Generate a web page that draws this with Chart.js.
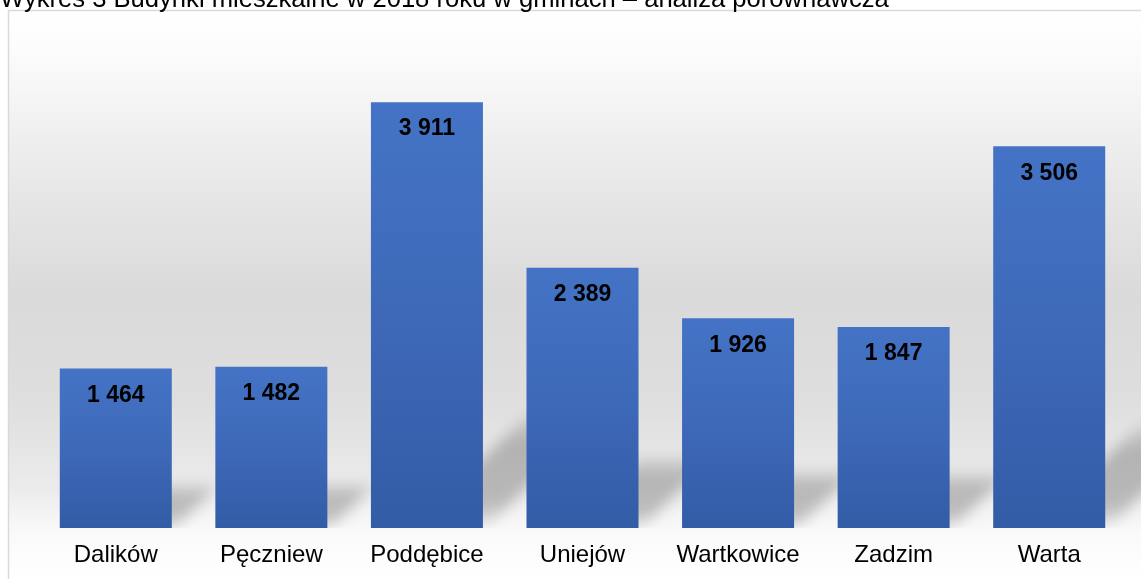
<!DOCTYPE html>
<html>
<head>
<meta charset="utf-8">
<script src="https://cdn.jsdelivr.net/npm/chart.js@4.4.1/dist/chart.umd.min.js"></script>
<style>
  html, body { margin: 0; padding: 0; background: #ffffff; overflow: hidden; }
  #wrap { position: relative; width: 1141px; height: 579px; }
  #title { position: absolute; left: 0px; top: -14px; font-family: "Liberation Sans", Arial, sans-serif; font-size: 25.6px; line-height: 25.6px; color: #000; white-space: nowrap; z-index: 2; }
  canvas { position: absolute; left: 0; top: 0; }
</style>
</head>
<body>
<div id="wrap">
  <canvas id="c" width="1141" height="579"></canvas>
  <div id="title">Wykres 3 Budynki mieszkalne w 2018 roku w gminach – analiza porównawcza</div>
</div>
<script>
const categories = ["Dalików", "Pęczniew", "Poddębice", "Uniejów", "Wartkowice", "Zadzim", "Warta"];
const values = [1464, 1482, 3911, 2389, 1926, 1847, 3506];
const axisMax = 4500;

function fmt(v) { return String(v).replace(/\B(?=(\d{3})+(?!\d))/g, ' '); }

const bgPlugin = {
  id: 'bg',
  beforeDraw(chart) {
    const ctx = chart.ctx;
    const W = chart.width, H = chart.height;
    ctx.save();
    ctx.fillStyle = '#ffffff';
    ctx.fillRect(0, 0, W, H);
    const g = ctx.createLinearGradient(0, 11, 0, H);
    g.addColorStop(0.00, '#ffffff');
    g.addColorStop(0.08, '#fbfbfb');
    g.addColorStop(0.33, '#e6e6e6');
    g.addColorStop(0.50, '#dadada');
    g.addColorStop(0.68, '#dedede');
    g.addColorStop(0.84, '#ebebeb');
    g.addColorStop(0.92, '#fafafa');
    g.addColorStop(1.00, '#ffffff');
    ctx.fillStyle = g;
    ctx.fillRect(9, 11, W - 9, H - 11);
    ctx.strokeStyle = '#d9d9d9';
    ctx.lineWidth = 1.5;
    ctx.beginPath();
    ctx.moveTo(8, 10.5); ctx.lineTo(W, 10.5);
    ctx.moveTo(8.5, 10); ctx.lineTo(8.5, H);
    ctx.stroke();
    ctx.restore();
  }
};

const shadowPlugin = {
  id: 'shadow',
  beforeDatasetsDraw(chart) {
    const ctx = chart.ctx;
    const meta = chart.getDatasetMeta(0);
    const B = chart.scales.y.getPixelForValue(0);
    ctx.save();
    ctx.beginPath();
    ctx.rect(0, 0, chart.width, B);
    ctx.clip();
    ctx.filter = 'blur(7px)';
    meta.data.forEach(el => {
      const p = el.getProps(['x', 'y', 'width', 'base'], true);
      const L = p.x - p.width / 2, R = p.x + p.width / 2;
      const h = B - p.y;
      const sh = h * 0.27;
      const dx = sh * 1.05;
      const g = ctx.createLinearGradient(0, B - sh, 0, B);
      g.addColorStop(0, 'rgba(0,0,0,0.07)');
      g.addColorStop(0.25, 'rgba(0,0,0,0.22)');
      g.addColorStop(0.8, 'rgba(0,0,0,0.22)');
      g.addColorStop(1, 'rgba(0,0,0,0.03)');
      ctx.fillStyle = g;
      ctx.beginPath();
      ctx.moveTo(L + p.width * 0.35, B);
      ctx.lineTo(R + 2, B);
      ctx.lineTo(R + 2 + dx, B - sh);
      ctx.lineTo(L + p.width * 0.35 + dx, B - sh);
      ctx.closePath();
      ctx.fill();
    });
    ctx.restore();
  }
};

const labelPlugin = {
  id: 'vals',
  afterDatasetsDraw(chart) {
    const ctx = chart.ctx;
    const meta = chart.getDatasetMeta(0);
    ctx.save();
    ctx.font = 'bold 23px "Liberation Sans", Arial, sans-serif';
    ctx.fillStyle = '#000000';
    ctx.textAlign = 'center';
    ctx.textBaseline = 'middle';
    meta.data.forEach((el, i) => {
      const p = el.getProps(['x', 'y'], true);
      ctx.fillText(fmt(values[i]), p.x, p.y + 27);
    });
    ctx.restore();
  }
};

function barColor(context) {
  const chart = context.chart;
  const area = chart.chartArea;
  if (!area || !chart.scales.y) return '#4472c4';
  const v = values[context.dataIndex];
  const top = chart.scales.y.getPixelForValue(v);
  const bottom = chart.scales.y.getPixelForValue(0);
  const g = chart.ctx.createLinearGradient(0, top, 0, bottom);
  g.addColorStop(0, '#4473c5');
  g.addColorStop(0.5, '#3e69b9');
  g.addColorStop(1, '#335ca6');
  return g;
}

new Chart(document.getElementById('c'), {
  type: 'bar',
  data: {
    labels: categories,
    datasets: [{
      data: values,
      backgroundColor: barColor,
      borderWidth: 0,
      barPercentage: 0.72,
      categoryPercentage: 1.0
    }]
  },
  options: {
    responsive: false,
    animation: false,
    devicePixelRatio: 1,
    layout: { padding: { left: 38, right: 14, top: 38, bottom: 11 } },
    plugins: { legend: { display: false }, tooltip: { enabled: false }, title: { display: false } },
    scales: {
      y: { display: false, min: 0, max: axisMax },
      x: {
        afterFit(scale) { scale.height = 40; },
        grid: { display: false, drawTicks: false },
        border: { display: false },
        ticks: { color: '#000000', padding: 13, font: { family: '"Liberation Sans", Arial, sans-serif', size: 24 } }
      }
    }
  },
  plugins: [bgPlugin, shadowPlugin, labelPlugin]
});
</script>
</body>
</html>
